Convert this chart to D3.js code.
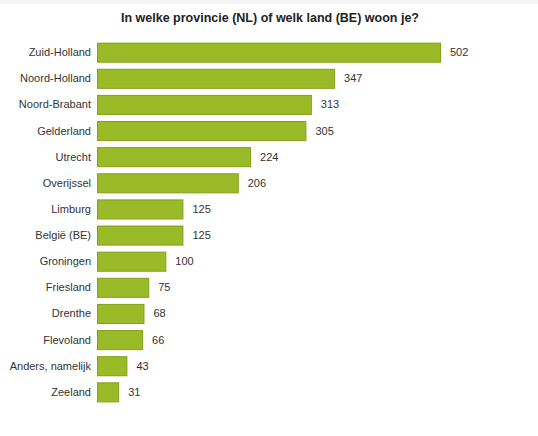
<!DOCTYPE html>
<html><head><meta charset="utf-8">
<script src="https://cdn.jsdelivr.net/npm/d3@7"></script>
<style>body{margin:0;background:#fff;font-family:"Liberation Sans",Arial,sans-serif;}</style>
</head><body>
<svg id="chart" width="538" height="436"></svg>
<script>
const categories = ["Zuid-Holland","Noord-Holland","Noord-Brabant","Gelderland","Utrecht","Overijssel","Limburg","België (BE)","Groningen","Friesland","Drenthe","Flevoland","Anders, namelijk","Zeeland"];
const values = [502,347,313,305,224,206,125,125,100,75,68,66,43,31];

const svg = d3.select("#chart");
svg.append("rect").attr("width",538).attr("height",4).attr("fill","#f4f4f4");
svg.append("text").attr("x",270).attr("y",22).attr("text-anchor","middle")
  .attr("font-size",12.5).attr("font-weight","bold").attr("fill","#222")
  .text("In welke provincie (NL) of welk land (BE) woon je?");

const left = 97;
const x = d3.scaleLinear().domain([0,502]).range([0,343]);
const y = d3.scaleBand().domain(categories).range([40,404]).paddingInner(0.27).paddingOuter(0.1);

const g = svg.append("g");
g.selectAll("rect.bar").data(values).enter().append("rect").attr("class","bar")
  .attr("x",left+0.5).attr("y",(d,i)=>y(categories[i])+0.5)
  .attr("width",d=>x(d)).attr("height",y.bandwidth())
  .attr("fill","#9aba28").attr("stroke","#84a01c").attr("stroke-width",1);
g.selectAll("text.lab").data(categories).enter().append("text")
  .attr("x",left-6).attr("y",d=>y(d)+y.bandwidth()/2+4)
  .attr("text-anchor","end").attr("font-size",11).attr("fill","#333").text(d=>d);
g.selectAll("text.val").data(values).enter().append("text")
  .attr("x",d=>left+x(d)+10).attr("y",(d,i)=>y(categories[i])+y.bandwidth()/2+4)
  .attr("font-size",11).attr("fill","#333").text(d=>d);
</script>
</body></html>
